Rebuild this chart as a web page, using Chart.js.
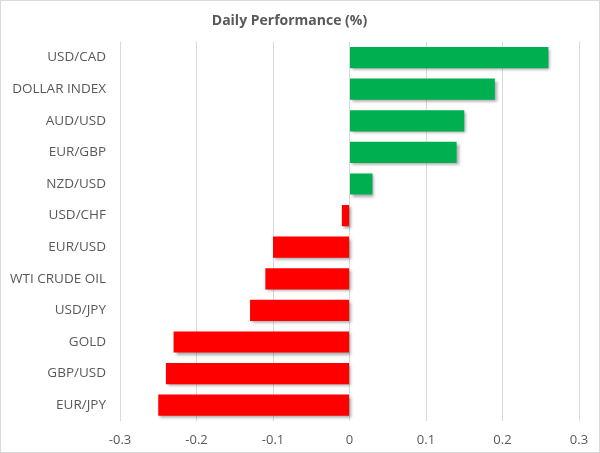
<!DOCTYPE html>
<html>
<head>
<meta charset="utf-8">
<script src="https://cdn.jsdelivr.net/npm/chart.js@4"></script>
<style>
  body { margin: 0; background: #fff; }
  #wrap { width: 600px; height: 453px; position: relative; }
</style>
</head>
<body>
<div id="wrap"><canvas id="perf_chart"></canvas></div>
<script>
// Data
var categories = ["USD/CAD", "DOLLAR INDEX", "AUD/USD", "EUR/GBP", "NZD/USD", "USD/CHF",
                  "EUR/USD", "WTI CRUDE OIL", "USD/JPY", "GOLD", "GBP/USD", "EUR/JPY"];
var performance = [0.26, 0.19, 0.15, 0.14, 0.03, -0.01, -0.10, -0.11, -0.13, -0.23, -0.24, -0.25];
var xTicks = [-0.3, -0.2, -0.1, 0, 0.1, 0.2, 0.3];

var textColor = '#595959';
Chart.defaults.font.family = "'Open Sans', sans-serif";
Chart.defaults.font.size = 13.5;
Chart.defaults.color = textColor;

// thin grey frame round the whole picture
var framePlugin = {
    id: 'frame',
    beforeDraw: function (chart) {
        var c = chart.ctx;
        c.save();
        c.fillStyle = '#fff';
        c.fillRect(0, 0, chart.width, chart.height);
        c.strokeStyle = '#d9d9d9';
        c.lineWidth = 1;
        c.strokeRect(0.5, 0.5, chart.width - 1, chart.height - 1);
        c.restore();
    }
};

// soft drop shadow under the bars
var shadowPlugin = {
    id: 'barShadow',
    beforeDatasetsDraw: function (chart) {
        var c = chart.ctx;
        c.save();
        c.shadowColor = 'rgba(0,0,0,0.35)';
        c.shadowBlur = 3;
        c.shadowOffsetX = 2;
        c.shadowOffsetY = 2;
    },
    afterDatasetsDraw: function (chart) {
        chart.ctx.restore();
    }
};

var ctx = document.getElementById('perf_chart').getContext('2d');
var myChart = new Chart(ctx, {
    type: 'bar',
    data: {
        labels: categories,
        datasets: [{
            data: performance,
            backgroundColor: function (c) {
                return c.raw >= 0 ? '#00b050' : '#ff0000';
            },
            borderWidth: 0,
            barPercentage: 0.67,
            categoryPercentage: 1
        }]
    },
    options: {
        indexAxis: 'y',
        responsive: true,
        maintainAspectRatio: false,
        animation: false,
        layout: { padding: { left: 0, right: 21, top: 0, bottom: 0 } },
        plugins: {
            legend: { display: false },
            tooltip: { enabled: false },
            title: {
                display: true,
                text: 'Daily Performance (%)',
                color: textColor,
                font: { size: 14, weight: 'bold' },
                padding: { top: 13, bottom: 12 }
            }
        },
        scales: {
            x: {
                min: -0.3,
                max: 0.3,
                afterBuildTicks: function (scale) {
                    scale.ticks = xTicks.map(function (v) { return { value: v }; });
                },
                afterFit: function (scale) { scale.height = 32; },
                ticks: {
                    padding: 11,
                    font: { size: 13 },
                    callback: function (v) { return v === 0 ? '0' : String(Math.round(v * 10) / 10); }
                },
                grid: { color: '#d9d9d9', drawTicks: false },
                border: { display: false }
            },
            y: {
                afterFit: function (scale) { scale.width = 120; },
                ticks: { padding: 14 },
                grid: { display: false, drawTicks: false },
                border: { display: false }
            }
        }
    },
    plugins: [framePlugin, shadowPlugin]
});
</script>
</body>
</html>
